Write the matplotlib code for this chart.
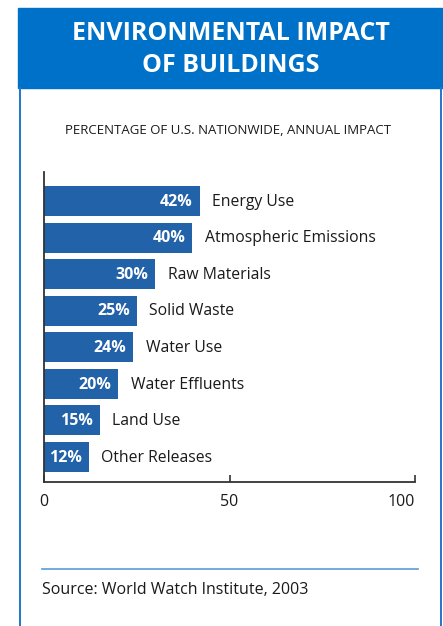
import matplotlib.pyplot as plt
from matplotlib.patches import Rectangle
from matplotlib.lines import Line2D

plt.rcParams['font.family'] = ['Open Sans', 'DejaVu Sans']

categories = ['Energy Use', 'Atmospheric Emissions', 'Raw Materials', 'Solid Waste',
              'Water Use', 'Water Effluents', 'Land Use', 'Other Releases']
values = [42, 40, 30, 25, 24, 20, 15, 12]
xticks = [0, 50, 100]

W, H = 443, 626
fig = plt.figure(figsize=(W / 100, H / 100), dpi=100)

def fx(px):
    return px / W

def fy(py):
    return 1 - py / H

# header band and frame
fig.patches.append(Rectangle((fx(18), fy(88)), fx(443 - 18), 80 / H,
                             transform=fig.transFigure, color='#0071C9', zorder=0))
for x in (19.5, 441):
    fig.lines.append(Line2D([fx(x), fx(x)], [fy(88), 0], transform=fig.transFigure,
                            color='#1F77CF', lw=1.4))
fig.text(fx(231), fy(34), 'ENVIRONMENTAL IMPACT', color='white', fontsize=18,
         fontweight='bold', ha='center', va='center')
fig.text(fx(231), fy(66), 'OF BUILDINGS', color='white', fontsize=18,
         fontweight='bold', ha='center', va='center')
fig.text(fx(228), fy(131), 'PERCENTAGE OF U.S. NATIONWIDE, ANNUAL IMPACT',
         color='#1a1a1a', fontsize=9.5, ha='center', va='center')

ax = fig.add_axes([fx(44), fy(482), fx(415 - 44), (482 - 172) / H])
pos = list(range(len(categories)))
ax.barh(pos, values, height=0.82, color='#2262A8', zorder=2)
for p, v, c in zip(pos, values, categories):
    ax.annotate(f'{v}%', (v, p), xytext=(-5, -0.5), textcoords='offset points',
                ha='right', va='center', color='white', fontsize=11.5, fontweight='bold')
    ax.annotate(c, (v, p), xytext=(9, -0.5), textcoords='offset points',
                ha='left', va='center', color='#1a1a1a', fontsize=11.3)

ax.set_xlim(0, 100)
ax.set_ylim(7.684, -0.793)
ax.set_xticks(xticks)
ax.set_yticks([])
ax.tick_params(axis='x', direction='in', length=5, width=1.2, color='#333333',
               pad=9, labelsize=11.5, labelcolor='#1a1a1a')
ax.get_xticklabels()[-1].set_ha('right')
for s in ('top', 'right'):
    ax.spines[s].set_visible(False)
for s in ('left', 'bottom'):
    ax.spines[s].set_color('#333333')
    ax.spines[s].set_linewidth(1.3)
ax.patch.set_alpha(0)

# footer rule and source
fig.lines.append(Line2D([fx(42), fx(418)], [fy(569), fy(569)], transform=fig.transFigure,
                        color='#5B9BD5', lw=1.2))
fig.text(fx(42), fy(590), 'Source: World Watch Institute, 2003', color='#1a1a1a',
         fontsize=11.5, ha='left', va='center')

fig.savefig('out.png', dpi=100)
